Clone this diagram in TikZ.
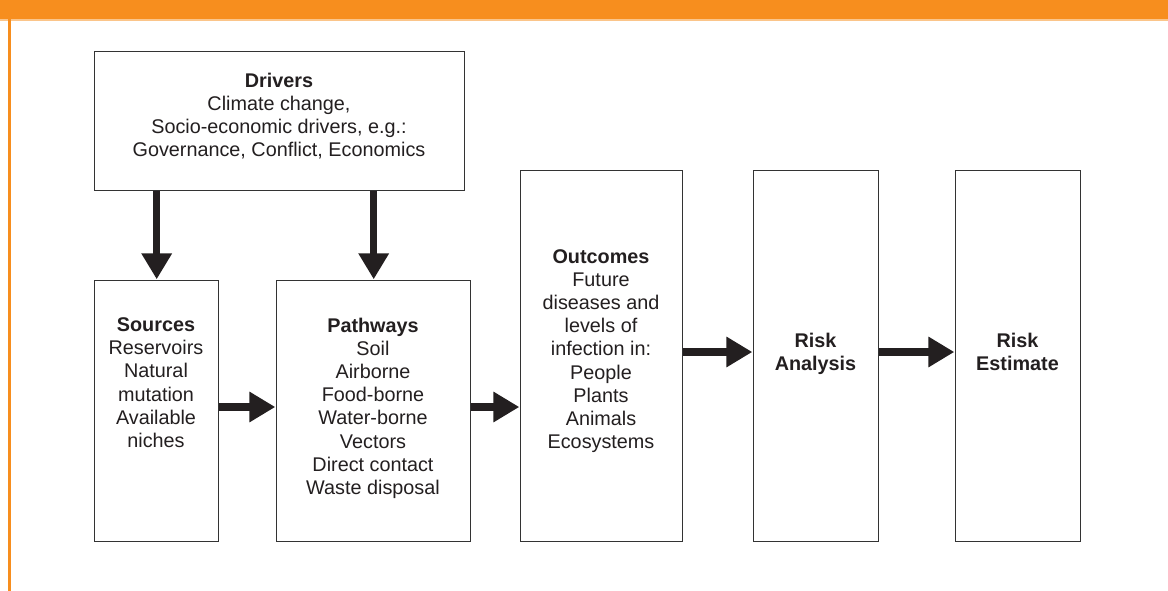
\documentclass[tikz,border=0pt]{standalone}
\usepackage{fontspec}
\setmainfont{Liberation Sans}
\usetikzlibrary{arrows.meta}
\definecolor{orangebar}{HTML}{F78E1E}
\definecolor{orangelight}{HTML}{FBC58A}
\definecolor{ink}{HTML}{231F20}
\definecolor{boxline}{HTML}{333333}
\tikzset{
  box/.style={draw=boxline, line width=1.4pt, rectangle, inner sep=0pt, anchor=north west},
  txt/.style={anchor=north, align=center, inner sep=0pt, text=ink, font=\fontsize{19.8}{23.2}\selectfont},
  bigarrow/.style={draw=ink, line width=7.5pt, -{Triangle[length=26pt,width=29pt]}, shorten >=0.7pt}
}
\begin{document}
\begin{tikzpicture}[x=1pt,y=-1pt]
\useasboundingbox (0,0) rectangle (1168,591);
\fill[white] (0,0) rectangle (1168,591);
% header bar and left rule
\fill[orangebar] (0,0) rectangle (1168,19);
\fill[orangelight] (0,19) rectangle (1168,21);
\fill[orangebar] (8,19) rectangle (11,591);
% boxes
\node[box, minimum width=370pt, minimum height=139pt] (drivers) at (94,51) {};
\node[box, minimum width=124pt, minimum height=261pt] (sources) at (94,280) {};
\node[box, minimum width=194pt, minimum height=261pt] (pathways) at (276,280) {};
\node[box, minimum width=162pt, minimum height=371pt] (outcomes) at (520,170) {};
\node[box, minimum width=125pt, minimum height=371pt] (analysis) at (753,170) {};
\node[box, minimum width=125pt, minimum height=371pt] (estimate) at (955,170) {};
% texts
\node[txt] (tdrivers) at (279,72.5) {\textbf{Drivers}\\Climate change,\\Socio-economic drivers, e.g.:\\Governance, Conflict, Economics};
\node[txt] (tsources) at (156,317.5) {\textbf{Sources}\\Reservoirs\\Natural\\mutation\\Available\\niches};
\node[txt] (tpathways) at (373,317.5) {\textbf{Pathways}\\Soil\\Airborne\\Food-borne\\Water-borne\\Vectors\\Direct contact\\Waste disposal};
\node[txt] (toutcomes) at (601,249) {\textbf{Outcomes}\\Future\\diseases and\\levels of\\infection in:\\People\\Plants\\Animals\\Ecosystems};
\node[txt] (tanalysis) at (815.5,332.5) {\textbf{Risk}\\\textbf{Analysis}};
\node[txt] (testimate) at (1017.5,332.5) {\textbf{Risk}\\\textbf{Estimate}};
% arrows
\draw[bigarrow] (drivers.south -| sources.north) -- (sources.north);
\draw[bigarrow] (drivers.south -| pathways.north) -- (pathways.north);
\coordinate (rowA) at (0,407);
\draw[bigarrow] (rowA -| sources.east) -- (rowA -| pathways.west);
\draw[bigarrow] (rowA -| pathways.east) -- (rowA -| outcomes.west);
\coordinate (rowB) at (0,352);
\draw[bigarrow] (rowB -| outcomes.east) -- (rowB -| analysis.west);
\draw[bigarrow] (rowB -| analysis.east) -- (rowB -| estimate.west);
\end{tikzpicture}
\end{document}
